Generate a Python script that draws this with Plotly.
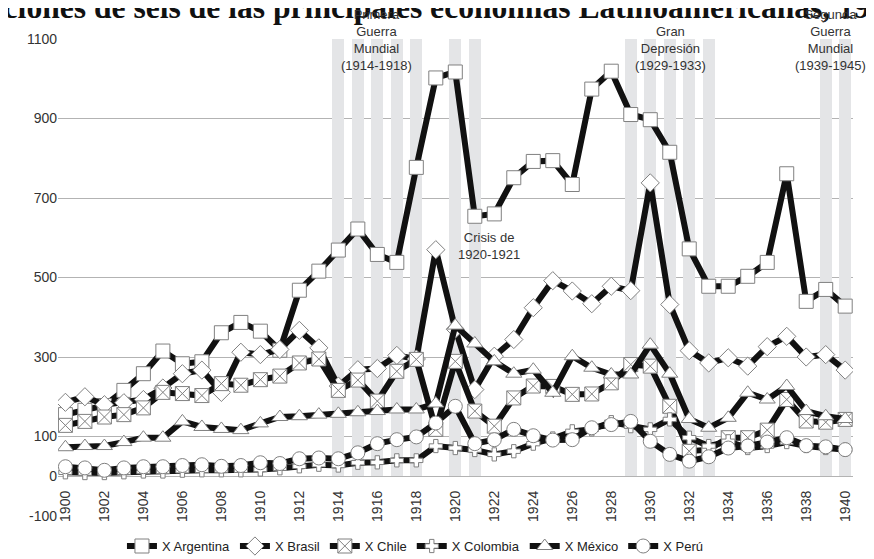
import plotly.graph_objects as go

years = list(range(1900, 1941))

argentina = [155, 166, 178, 216, 258, 315, 283, 288, 361, 387, 365, 317, 468, 516, 569, 622, 558, 538,
             777, 1002, 1017, 654, 660, 751, 792, 794, 734, 974, 1019, 910, 897, 815, 572, 478, 478, 503,
             538, 761, 440, 470, 428]
brasil = [186, 200, 180, 185, 193, 222, 258, 267, 211, 312, 306, 319, 367, 323, 227, 268, 271, 304,
          295, 570, 370, 218, 302, 344, 424, 492, 466, 434, 478, 467, 738, 432, 316, 285, 298, 277,
          326, 352, 300, 306, 267]
chile = [128, 138, 149, 155, 172, 211, 208, 203, 233, 229, 243, 252, 285, 295, 216, 242, 189, 264,
         294, 118, 289, 164, 126, 197, 227, 226, 206, 207, 235, 281, 277, 176, 63, 67, 97, 97,
         116, 193, 139, 136, 143]
colombia = [10, 8, 8, 10, 12, 12, 14, 15, 15, 15, 17, 20, 25, 29, 27, 34, 35, 40,
            40, 76, 71, 66, 55, 63, 82, 95, 113, 118, 136, 126, 118, 143, 97, 76, 88, 71,
            76, 86, 76, 71, 67]
mexico = [73, 76, 76, 86, 97, 97, 138, 124, 119, 116, 133, 149, 151, 155, 157, 161, 164, 168,
          168, 183, 379, 334, 289, 258, 268, 210, 302, 273, 256, 256, 331, 258, 144, 122, 147, 210,
          193, 227, 164, 151, 144]
peru = [24, 21, 15, 21, 24, 24, 27, 29, 25, 27, 34, 32, 44, 46, 44, 59, 82, 92,
        99, 134, 176, 82, 92, 118, 102, 91, 92, 122, 130, 138, 88, 55, 38, 49, 71, 76,
        86, 97, 77, 74, 67]

series_names = ["X Argentina", "X Brasil", "X Chile", "X Colombia", "X México", "X Perú"]
series_values = [argentina, brasil, chile, colombia, mexico, peru]
series_symbols = ["square", "diamond", "square-x", "cross", "triangle-up", "circle"]

band_years = [1914, 1915, 1916, 1917, 1918, 1920, 1921, 1929, 1930, 1931, 1932, 1933, 1939, 1940]
band_values = [1100] * len(band_years)

y_ticks = [-100, 0, 100, 300, 500, 700, 900, 1100]
x_ticks = list(range(1900, 1941, 2))

fig = go.Figure()

fig.add_trace(go.Bar(x=band_years, y=band_values, base=0, width=0.62,
                     marker=dict(color="#e4e5e7", line=dict(width=0)),
                     showlegend=False, hoverinfo="skip"))

for name, vals, sym in zip(series_names, series_values, series_symbols):
    fig.add_trace(go.Scatter(
        x=years, y=vals, name=name, mode="lines+markers",
        line=dict(color="#111111", width=6),
        marker=dict(symbol=sym, size=14 if sym != "cross" else 11, color="white",
                    line=dict(color="#808080", width=1)),
    ))

text_font = dict(family="Liberation Sans, Arial, sans-serif", size=13, color="#333333")

top_notes = [
    (1915.98, 0.9974, "Primera<br>Guerra<br>Mundial<br>(1914-1918)"),
    (1931.06, 0.9799, "Gran<br>Depresión<br>(1929-1933)"),
    (1939.25, 0.9974, "Segunda<br>Guerra<br>Mundial<br>(1939-1945)"),
]
fig_ann = []
fig_ann.append(dict(x=0.473, y=1.066, xref="paper", yref="paper",
                    text="<b>Exportaciones de seis de las principales economías Latinoamericanas, 1900-1940</b>",
                    showarrow=False, xanchor="center", yanchor="middle",
                    font=dict(family="Liberation Serif, Times New Roman, serif", size=31.6, color="#111111")))
for xv, yv, txt in top_notes:
    fig_ann.append(dict(x=xv, y=yv, xref="x", yref="paper", text=txt,
                        showarrow=False, xanchor="center", yanchor="middle", font=text_font,
                        align="center"))
fig_ann.append(dict(x=1921.75, y=579, xref="x", yref="y", text="Crisis de<br>1920-1921",
                    showarrow=False, xanchor="center", yanchor="middle", font=text_font,
                    align="center"))

fig.update_layout(
    width=866, height=551,
    margin=dict(l=50, r=21, t=31, b=43, autoexpand=False),
    paper_bgcolor="white", plot_bgcolor="white",
    showlegend=True,
    legend=dict(orientation="h", x=0.449, xanchor="center", y=-0.063, yanchor="middle",
                font=dict(family="Liberation Sans, Arial, sans-serif", size=13, color="#222222"),
                itemwidth=30, tracegroupgap=0, bgcolor="rgba(0,0,0,0)"),
    annotations=fig_ann,
    bargap=0,
)

fig.update_xaxes(range=[1899.62, 1940.4], tickvals=x_ticks, ticktext=[str(t) for t in x_ticks],
                 tickangle=-90, showgrid=False, zeroline=False, showline=False, ticks="",
                 automargin=False,
                 ticklabelposition="outside", ticklabelstandoff=-29,
                 tickfont=dict(family="Liberation Sans, Arial, sans-serif", size=14, color="#333333"))
fig.update_yaxes(range=[-100, 1100], tickvals=y_ticks, ticktext=[str(t) for t in y_ticks],
                 showgrid=True, gridcolor="#b3b3b3", gridwidth=1, zeroline=False, showline=False,
                 automargin=False,
                 ticks="", tickfont=dict(family="Liberation Sans, Arial, sans-serif", size=14, color="#333333"))

fig.write_html("out.html")
